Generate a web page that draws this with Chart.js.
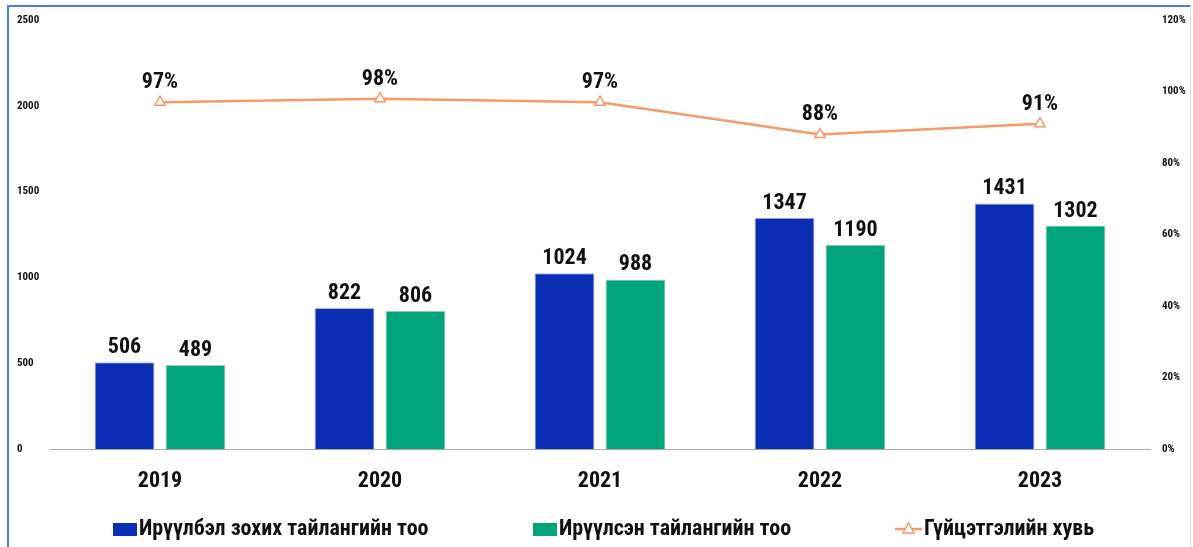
<!DOCTYPE html>
<html>
<head>
<meta charset="utf-8">
<script src="https://cdn.jsdelivr.net/npm/chart.js@4/dist/chart.umd.min.js"></script>
<style>
  html, body { margin: 0; padding: 0; background: #fff; }
  #wrap { position: relative; width: 1193px; height: 547px; overflow: hidden; }
  #frame {
    position: absolute; left: 7px; top: 5px; width: 1181px; height: 600px;
    border-left: 2px solid #4f7fd0; border-top: 2px solid #4f7fd0;
    border-right: 1px solid #d3dcec; pointer-events: none;
  }
  canvas { position: absolute; left: 0; top: 0; }
</style>
</head>
<body>
<div id="wrap">
  <canvas id="chart" width="1193" height="547"></canvas>
  <div id="frame"></div>
</div>
<script>
'use strict';

var FONT = '"Roboto Condensed", "Liberation Sans Narrow", sans-serif';

var years    = ['2019', '2020', '2021', '2022', '2023'];
var planned  = [506, 822, 1024, 1347, 1431];
var sent     = [489, 806, 988, 1190, 1302];
var rate     = [0.97, 0.98, 0.97, 0.88, 0.91];
var names    = ['Ирүүлбэл зохих тайлангийн тоо', 'Ирүүлсэн тайлангийн тоо', 'Гүйцэтгэлийн хувь'];

var BLUE   = '#0a2eb4';
var GREEN  = '#00a57c';
var ORANGE = '#f59a68';

// value labels above bars and line points
var valueLabels = {
  id: 'valueLabels',
  afterDatasetsDraw: function(chart) {
    var ctx = chart.ctx;
    ctx.save();
    ctx.fillStyle = '#111';
    ctx.textAlign = 'center';
    ctx.textBaseline = 'alphabetic';
    ctx.font = 'bold 22px ' + FONT;
    chart.data.datasets.forEach(function(ds, i) {
      var meta = chart.getDatasetMeta(i);
      meta.data.forEach(function(el, j) {
        var v = ds.data[j];
        if (ds.type === 'line') {
          ctx.fillText(Math.round(v * 100) + '%', el.x, el.y - 14);
        } else {
          ctx.fillText(String(v), el.x, el.y - 9);
        }
      });
    });
    ctx.restore();
  }
};

// legend row at the bottom, items placed in fixed columns
var bottomLegend = {
  id: 'bottomLegend',
  afterDraw: function(chart) {
    var ctx = chart.ctx;
    var y = 529;
    var cols = [113, 533, 895];
    ctx.save();
    ctx.font = 'bold 22px ' + FONT;
    ctx.textBaseline = 'middle';
    ctx.textAlign = 'left';
    chart.data.datasets.forEach(function(ds, i) {
      var x = cols[i];
      if (ds.type === 'line') {
        ctx.strokeStyle = ds.borderColor;
        ctx.lineWidth = 2.5;
        ctx.beginPath();
        ctx.moveTo(x, y);
        ctx.lineTo(x + 27, y);
        ctx.stroke();
        ctx.fillStyle = '#fff';
        ctx.lineWidth = 1.5;
        ctx.beginPath();
        ctx.moveTo(x + 13.5, y - 6);
        ctx.lineTo(x + 19, y + 4);
        ctx.lineTo(x + 8, y + 4);
        ctx.closePath();
        ctx.fill();
        ctx.stroke();
        ctx.fillStyle = '#111';
        ctx.fillText(ds.label, x + 29, y);
      } else {
        ctx.fillStyle = ds.backgroundColor;
        ctx.fillRect(x, y - 6, 24, 13);
        ctx.fillStyle = '#111';
        ctx.fillText(ds.label, x + 26, y);
      }
    });
    ctx.restore();
  }
};

new Chart(document.getElementById('chart'), {
  type: 'bar',
  data: {
    labels: years,
    datasets: [
      {
        label: names[0], data: planned, yAxisID: 'y', order: 2,
        backgroundColor: BLUE, borderColor: '#b4b8c4', borderWidth: 1,
        categoryPercentage: 0.645, barPercentage: 0.845
      },
      {
        label: names[1], data: sent, yAxisID: 'y', order: 2,
        backgroundColor: GREEN, borderColor: '#b8c0bc', borderWidth: 1,
        categoryPercentage: 0.645, barPercentage: 0.845
      },
      {
        type: 'line', label: names[2], data: rate, yAxisID: 'y1', order: 1,
        borderColor: ORANGE, borderWidth: 2.5, backgroundColor: '#fff',
        pointStyle: 'triangle', pointRadius: 6, pointBorderWidth: 1.5,
        pointBackgroundColor: '#fff', pointBorderColor: ORANGE,
        tension: 0, fill: false
      }
    ]
  },
  options: {
    responsive: false,
    animation: false,
    layout: { padding: { left: 17, right: 0, top: 20, bottom: 0 } },
    plugins: {
      legend: { display: false },
      title: { display: false },
      tooltip: { enabled: false }
    },
    scales: {
      x: {
        grid: { display: false },
        border: { display: true, color: '#a8a8a8', width: 1 },
        ticks: { color: '#111', font: { family: FONT, size: 22, weight: 'bold' }, padding: 11 },
        afterFit: function(s) { s.height = 98; }
      },
      y: {
        position: 'left',
        min: 0, max: 2500,
        grid: { display: false },
        border: { display: false },
        ticks: {
          stepSize: 500, crossAlign: 'far', padding: 10,
          color: '#111', font: { family: FONT, size: 11, weight: 'bold' },
          callback: function(v) { return String(v); }
        },
        afterFit: function(s) { s.width = 33; }
      },
      y1: {
        position: 'right',
        min: 0, max: 1.2,
        grid: { display: false },
        border: { display: false },
        ticks: {
          stepSize: 0.2, crossAlign: 'near', padding: 4,
          color: '#111', font: { family: FONT, size: 11, weight: 'bold' },
          callback: function(v) { return Math.round(v * 100) + '%'; }
        },
        afterFit: function(s) { s.width = 43; }
      }
    }
  },
  plugins: [valueLabels, bottomLegend]
});
</script>
</body>
</html>
